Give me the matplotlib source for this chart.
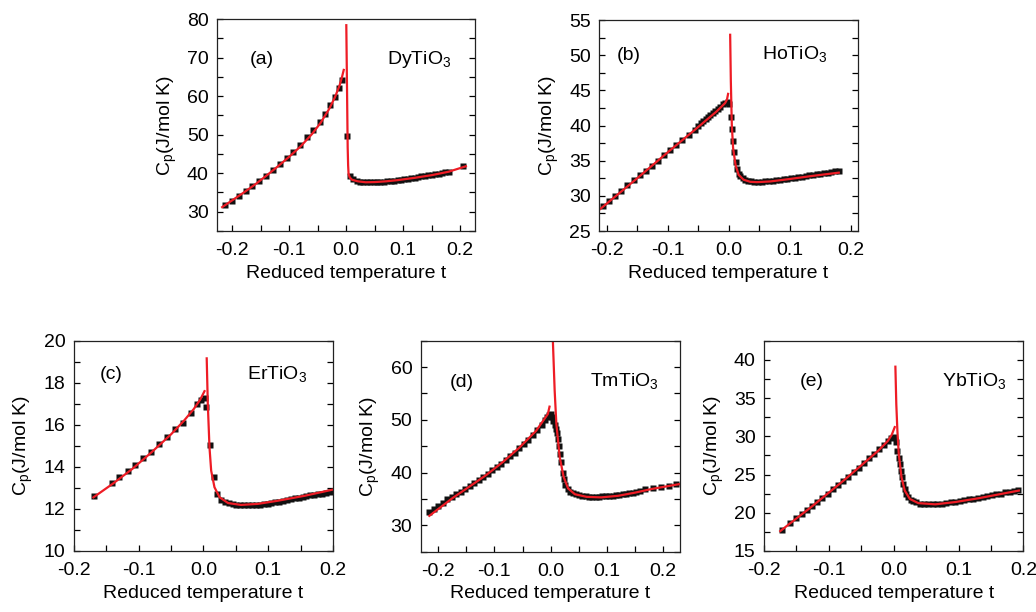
import numpy as np
import matplotlib
matplotlib.use("Agg")
import matplotlib.pyplot as plt
from matplotlib.ticker import MultipleLocator

plt.rcParams['font.family'] = ['Liberation Sans', 'DejaVu Sans']
plt.rcParams['mathtext.fontset'] = 'custom'
plt.rcParams['mathtext.rm'] = 'Liberation Sans'

RED = '#ee1c25'

#%% (a) DyTiO3
a_t = [-0.213, -0.201, -0.189, -0.177, -0.165, -0.153, -0.141, -0.129, -0.117, -0.105,
       -0.093, -0.081, -0.069, -0.058, -0.047, -0.037, -0.028, -0.020, -0.013, -0.007,
       0.001, 0.006, 0.012, 0.018, 0.024, 0.030, 0.036, 0.042, 0.048, 0.054, 0.060,
       0.066, 0.072, 0.078, 0.084, 0.090, 0.096, 0.102, 0.108, 0.114, 0.120, 0.126,
       0.132, 0.138, 0.144, 0.150, 0.156, 0.162, 0.168, 0.174, 0.180, 0.205]
a_cp = [31.7, 32.9, 34.1, 35.3, 36.6, 37.9, 39.3, 40.8, 42.3, 43.9,
        45.6, 47.4, 49.3, 51.2, 53.3, 55.4, 57.6, 59.9, 62.2, 64.1,
        49.7, 39.2, 38.4, 38.0, 37.8, 37.7, 37.6, 37.6, 37.6, 37.7, 37.75,
        37.8, 37.9, 38.0, 38.1, 38.2, 38.3, 38.45, 38.6, 38.7, 38.85, 39.0,
        39.15, 39.3, 39.45, 39.6, 39.75, 39.9, 40.05, 40.2, 40.4, 41.8]
a_fit_lo_t = [-0.218, -0.2, -0.18, -0.16, -0.14, -0.12, -0.1, -0.08, -0.06, -0.045,
              -0.03, -0.02, -0.012, -0.008, -0.0045]
a_fit_lo = [31.2, 33.0, 35.0, 37.1, 39.4, 41.8, 44.3, 47.0, 50.2, 53.1,
            56.7, 59.7, 62.7, 64.7, 66.8]
a_fit_hi_t = [0.0, 0.0012, 0.0024, 0.0032, 0.004, 0.006, 0.01, 0.02, 0.034, 0.05,
              0.07, 0.09, 0.12, 0.15, 0.18, 0.21]
a_fit_hi = [78.4, 62.5, 46.7, 42.0, 39.8, 38.9, 38.3, 37.9, 37.65, 37.7,
            37.9, 38.2, 38.8, 39.5, 40.4, 41.8]

#%% (b) HoTiO3
b_t = [-0.206, -0.196, -0.186, -0.176, -0.166, -0.156, -0.146, -0.136, -0.126, -0.116,
       -0.106, -0.096, -0.086, -0.076, -0.066, -0.056, -0.050, -0.046, -0.042, -0.038,
       -0.034, -0.030, -0.026, -0.022, -0.018, -0.014, -0.010, -0.006, -0.002,
       0.001, 0.003, 0.005, 0.007, 0.009, 0.011, 0.013, 0.016, 0.019, 0.023, 0.027,
       0.032, 0.037, 0.042, 0.048, 0.054, 0.060, 0.066, 0.072, 0.078, 0.084, 0.090,
       0.096, 0.102, 0.108, 0.114, 0.120, 0.126, 0.132, 0.138, 0.144, 0.150, 0.156,
       0.162, 0.168, 0.174, 0.180]
b_cp = [28.6, 29.3, 30.0, 30.7, 31.5, 32.2, 32.9, 33.6, 34.3, 35.0,
        35.8, 36.5, 37.2, 37.9, 38.6, 39.3, 40.0, 40.3, 40.6, 40.9,
        41.2, 41.5, 41.8, 42.1, 42.4, 42.7, 43.0, 43.2, 43.3,
        43.0, 41.2, 39.5, 37.8, 36.3, 34.8, 33.8, 33.1, 32.8, 32.5, 32.3,
        32.15, 32.05, 32.0, 32.0, 32.0, 32.05, 32.1, 32.15, 32.2, 32.3, 32.35,
        32.45, 32.5, 32.6, 32.65, 32.75, 32.8, 32.9, 33.0, 33.05, 33.15, 33.2,
        33.3, 33.4, 33.5, 33.6]
b_fit_lo_t = [-0.211, -0.15, -0.1, -0.05, -0.02, -0.006, -0.003, -0.0012]
b_fit_lo = [28.1, 32.5, 36.2, 39.8, 42.0, 43.2, 43.7, 44.5]
b_fit_hi_t = [0.0022, 0.0033, 0.0049, 0.007, 0.011, 0.016, 0.024, 0.035, 0.046,
              0.068, 0.1, 0.138, 0.18]
b_fit_hi = [52.9, 46.3, 40.1, 36.8, 34.4, 33.0, 32.3, 32.0, 31.95,
            32.05, 32.4, 32.85, 33.3]

#%% (c) ErTiO3
c_t = [-0.169, -0.142, -0.130, -0.117, -0.105, -0.093, -0.081, -0.068, -0.056, -0.044,
       -0.032, -0.020, -0.010, -0.004, 0.0016, 0.004, 0.0103, 0.0155, 0.0207,
       0.027, 0.033, 0.039, 0.045, 0.051, 0.057, 0.063, 0.069, 0.075, 0.081, 0.087,
       0.093, 0.099, 0.105, 0.111, 0.117, 0.123, 0.129, 0.135, 0.141, 0.147, 0.153,
       0.159, 0.165, 0.171, 0.177, 0.183, 0.189, 0.195, 0.2]
c_cp = [12.63, 13.22, 13.53, 13.82, 14.10, 14.42, 14.73, 15.08, 15.43, 15.78,
        16.11, 16.58, 16.98, 17.17, 17.29, 16.85, 15.05, 13.53, 12.71,
        12.44, 12.35, 12.28, 12.23, 12.2, 12.18, 12.17, 12.17, 12.17, 12.18, 12.2,
        12.22, 12.25, 12.28, 12.31, 12.35, 12.38, 12.42, 12.46, 12.5, 12.54, 12.58,
        12.61, 12.64, 12.67, 12.7, 12.73, 12.77, 12.8, 12.84]
c_fit_lo_t = [-0.17, -0.14, -0.11, -0.08, -0.05, -0.03, -0.015, -0.005, 0.0016]
c_fit_lo = [12.55, 13.2, 13.9, 14.7, 15.55, 16.2, 16.75, 17.2, 17.6]
c_fit_hi_t = [0.005, 0.0067, 0.0093, 0.0119, 0.017, 0.025, 0.038, 0.058, 0.084,
              0.115, 0.157, 0.2]
c_fit_hi = [19.16, 16.98, 14.92, 13.82, 13.03, 12.55, 12.28, 12.19, 12.24,
            12.39, 12.63, 12.92]

#%% (d) TmTiO3
d_t = [-0.216, -0.208, -0.200, -0.192, -0.184, -0.176, -0.168, -0.160, -0.152, -0.144,
       -0.136, -0.128, -0.120, -0.112, -0.104, -0.096, -0.088, -0.080, -0.072, -0.064,
       -0.056, -0.048, -0.040, -0.032, -0.024, -0.016, -0.010, -0.006, -0.003, 0.000,
       0.0024, 0.0048, 0.0071, 0.0095, 0.0116, 0.013, 0.0143, 0.0165, 0.019, 0.0214,
       0.0235, 0.0255, 0.030, 0.035, 0.039, 0.045, 0.051, 0.0566, 0.062, 0.068, 0.074,
       0.080, 0.086, 0.092, 0.098, 0.104, 0.110, 0.116, 0.122, 0.128, 0.134, 0.140,
       0.146, 0.152, 0.158, 0.167, 0.182, 0.197, 0.210, 0.223]
d_cp = [32.5, 33.1, 33.7, 34.3, 34.9, 35.4, 35.9, 36.4, 36.9, 37.5,
        38.0, 38.6, 39.2, 39.8, 40.4, 41.0, 41.7, 42.4, 43.1, 43.8,
        44.6, 45.4, 46.2, 47.1, 48.0, 49.1, 49.9, 50.5, 50.9, 51.1,
        50.5, 49.8, 49.0, 48.3, 47.5, 46.4, 45.0, 43.6, 42.1, 39.9,
        38.8, 37.7, 36.8, 36.4, 36.1, 35.85, 35.7, 35.6, 35.5, 35.45, 35.4,
        35.4, 35.45, 35.5, 35.5, 35.55, 35.6, 35.7, 35.8, 35.9, 36.0, 36.1,
        36.2, 36.35, 36.5, 36.8, 37.0, 37.25, 37.5, 37.75]
d_fit_lo_t = [-0.2157, -0.174, -0.145, -0.115, -0.085, -0.056, -0.026, -0.005, -0.002]
d_fit_lo = [31.8, 35.2, 37.3, 39.5, 42.0, 44.7, 47.9, 51.1, 52.5]
d_fit_hi_t = [0.003, 0.0036, 0.0071, 0.0101, 0.016, 0.023, 0.031, 0.043, 0.064,
              0.09, 0.12, 0.15, 0.18, 0.228]
d_fit_hi = [70.0, 66.0, 55.6, 49.3, 43.0, 39.2, 37.0, 35.9, 35.4,
            35.3, 35.6, 36.2, 36.9, 37.8]

#%% (e) YbTiO3
e_t = [-0.172, -0.160, -0.150, -0.142, -0.134, -0.126, -0.118, -0.110, -0.102, -0.094,
       -0.086, -0.078, -0.070, -0.062, -0.054, -0.046, -0.038, -0.030, -0.022, -0.015,
       -0.009, -0.004, 0.000, 0.003, 0.0057, 0.0075, 0.0093, 0.011, 0.013, 0.015,
       0.017, 0.0195, 0.022, 0.026, 0.030, 0.034, 0.040, 0.046, 0.053, 0.060, 0.067,
       0.074, 0.081, 0.088, 0.095, 0.102, 0.109, 0.116, 0.123, 0.130, 0.137, 0.144,
       0.151, 0.158, 0.165, 0.172, 0.179, 0.186, 0.192]
e_cp = [17.8, 18.6, 19.25, 19.8, 20.3, 20.85, 21.4, 21.95, 22.5, 23.05,
        23.6, 24.15, 24.7, 25.3, 25.9, 26.5, 27.1, 27.7, 28.3, 28.9,
        29.4, 29.8, 29.9, 29.3, 28.1, 27.2, 26.4, 25.5, 24.65, 23.8,
        23.1, 22.5, 22.0, 21.7, 21.5, 21.35, 21.2, 21.15, 21.1, 21.1, 21.15,
        21.2, 21.3, 21.4, 21.45, 21.55, 21.65, 21.75, 21.85, 21.95, 22.05, 22.15,
        22.3, 22.4, 22.5, 22.65, 22.75, 22.85, 23.0]
e_fit_lo_t = [-0.175, -0.154, -0.128, -0.102, -0.076, -0.050, -0.024, -0.009, -0.003, 0.0016]
e_fit_lo = [17.6, 19.0, 20.7, 22.5, 24.3, 26.2, 28.1, 29.4, 30.2, 31.2]
e_fit_hi_t = [0.0026, 0.004, 0.0057, 0.0078, 0.012, 0.017, 0.025, 0.038, 0.064,
              0.095, 0.131, 0.193]
e_fit_hi = [39.1, 34.2, 30.7, 27.7, 24.65, 22.9, 21.8, 21.26, 21.1,
            21.4, 21.9, 22.9]

#%% figure
fig = plt.figure(figsize=(10.36, 6.12), dpi=100)

panels = [
    # rect, data, fits, xlim, ylim, y major step, label, name, label pos, name pos
    ([0.2095, 0.6225, 0.2490, 0.3464], a_t, a_cp, a_fit_lo_t, a_fit_lo, a_fit_hi_t, a_fit_hi,
     (-0.227, 0.226), (25, 80), 10, '(a)', 'DyTiO', (0.128, 0.807), (0.66, 0.807)),
    ([0.5785, 0.6225, 0.2494, 0.3448], b_t, b_cp, b_fit_lo_t, b_fit_lo, b_fit_hi_t, b_fit_hi,
     (-0.212, 0.211), (25, 55), 5, '(b)', 'HoTiO', (0.066, 0.834), (0.63, 0.834)),
    ([0.0714, 0.0997, 0.2500, 0.3436], c_t, c_cp, c_fit_lo_t, c_fit_lo, c_fit_hi_t, c_fit_hi,
     (-0.2, 0.2), (10, 20), 2, '(c)', 'ErTiO', (0.10, 0.838), (0.667, 0.838)),
    ([0.4061, 0.0985, 0.2503, 0.3448], d_t, d_cp, d_fit_lo_t, d_fit_lo, d_fit_hi_t, d_fit_hi,
     (-0.231, 0.230), (25, 65), 10, '(d)', 'TmTiO', (0.112, 0.804), (0.653, 0.804)),
    ([0.7375, 0.0997, 0.2503, 0.3436], e_t, e_cp, e_fit_lo_t, e_fit_lo, e_fit_hi_t, e_fit_hi,
     (-0.2, 0.2), (15, 42.5), 5, '(e)', 'YbTiO', (0.139, 0.805), (0.687, 0.805)),
]

for (rect, t, cp, flt, flc, fht, fhc, xl, yl, ymaj, lab, name, lpos, npos) in panels:
    ax = fig.add_axes(rect)
    ax.plot(t, cp, 's', color='#111111', ms=4.3, mec='none')
    ax.plot(flt, flc, '-', color=RED, lw=1.6)
    ax.plot(fht, fhc, '-', color=RED, lw=1.6)
    ax.set_xlim(xl)
    ax.set_ylim(yl)
    ax.xaxis.set_major_locator(MultipleLocator(0.1))
    ax.xaxis.set_minor_locator(MultipleLocator(0.05))
    ax.yaxis.set_major_locator(MultipleLocator(ymaj))
    ax.yaxis.set_minor_locator(MultipleLocator(ymaj / 2))
    ax.tick_params(which='both', direction='in', right=True, top=False,
                   labelsize=14, width=0.9, length=4)
    ax.tick_params(axis='x', pad=8)
    ax.tick_params(axis='y', pad=6)
    ax.xaxis.set_major_formatter(plt.FuncFormatter(lambda v, p: '%.1f' % v))
    for s in ax.spines.values():
        s.set_linewidth(0.9)
        s.set_color('#222222')
    ax.set_xlabel('Reduced temperature t', fontsize=14, labelpad=4)
    ax.set_ylabel(r'C$_\mathregular{p}$(J/mol K)', fontsize=14, labelpad=6)
    ax.text(lpos[0], lpos[1], lab, transform=ax.transAxes, fontsize=14, va='center')
    ax.text(npos[0], npos[1], name + r'$_\mathregular{3}$', transform=ax.transAxes,
            fontsize=14, va='center')

plt.savefig('out.png', dpi=100)
